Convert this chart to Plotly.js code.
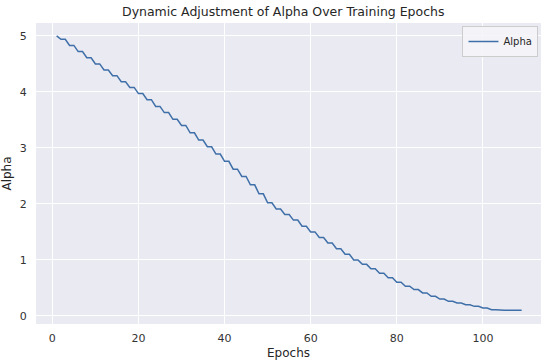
<!DOCTYPE html>
<html>
<head>
<meta charset="utf-8">
<script src="https://cdn.plot.ly/plotly-3.0.1.min.js"></script>
<style>html,body{margin:0;padding:0;background:#fff;}#chart{width:550px;height:362px;}</style>
</head>
<body>
<div id="chart"></div>
<script>
const epochs = [1,2,3,4,5,6,7,8,9,10,11,12,13,14,15,16,17,18,19,20,
21,22,23,24,25,26,27,28,29,30,31,32,33,34,35,36,37,38,39,40,
41,42,43,44,45,46,47,48,49,50,51,52,53,54,55,56,57,58,59,60,
61,62,63,64,65,66,67,68,69,70,71,72,73,74,75,76,77,78,79,80,
81,82,83,84,85,86,87,88,89,90,91,92,93,94,95,96,97,98,99,100,
101,102,103,104,105,106,107,108,109];
const alpha = [5.00,
4.94,4.94,4.83,4.83,4.72,4.72,4.61,4.61,4.50,4.50,
4.39,4.39,4.29,4.29,4.18,4.18,4.08,4.08,3.97,3.97,
3.86,3.86,3.74,3.74,3.63,3.63,3.51,3.51,3.40,3.40,
3.27,3.27,3.14,3.14,3.02,3.02,2.89,2.89,2.76,2.76,
2.62,2.62,2.49,2.49,2.34,2.34,2.18,2.18,2.02,2.02,
1.91,1.91,1.81,1.81,1.71,1.71,1.60,1.60,1.50,1.50,
1.40,1.40,1.30,1.30,1.20,1.20,1.10,1.10,1.00,1.00,
0.92,0.92,0.84,0.84,0.76,0.76,0.68,0.68,0.60,0.60,
0.53,0.53,0.47,0.47,0.41,0.41,0.35,0.35,0.30,0.30,
0.26,0.26,0.23,0.23,0.20,0.20,0.17,0.17,0.14,0.14,
0.11,0.11,0.10,0.10,0.10,0.10,0.10,0.10];
const xTicks = [0,20,40,60,80,100];
const yTicks = [0,1,2,3,4,5];
const seriesName = 'Alpha';
const titleText = 'Dynamic Adjustment of Alpha Over Training Epochs';
const xLabel = 'Epochs';
const yLabel = 'Alpha';

const font = 'DejaVu Sans, sans-serif';
Plotly.newPlot('chart', [{
  x: epochs, y: alpha, type: 'scatter', mode: 'lines', name: seriesName,
  line: {color: '#3f6fa8', width: 1.5}
}], {
  width: 550, height: 362,
  margin: {l: 36, r: 9, t: 23, b: 38},
  paper_bgcolor: '#ffffff', plot_bgcolor: '#eaeaf2',
  font: {family: font, size: 11, color: '#262626'},
  title: {text: titleText, font: {family: font, size: 12.5, color: '#262626'}, x: 0.515, xanchor: 'center', y: 0.967, yanchor: 'middle'},
  showlegend: true,
  legend: {x: 0.995, xanchor: 'right', y: 0.99, yanchor: 'top', bgcolor: 'rgba(245,245,248,0.9)', bordercolor: '#cccccc', borderwidth: 1,
    itemwidth: 30, tracegroupgap: 0, font: {family: font, size: 10, color: '#262626'}},
  xaxis: {range: [-3.8, 113.5], tickvals: xTicks, showgrid: true, gridcolor: '#ffffff', gridwidth: 1, zeroline: false, showline: false,
    ticks: 'outside', ticklen: 4, tickcolor: 'rgba(0,0,0,0)', tickfont: {family: font, size: 11, color: '#333333'},
    title: {text: xLabel, font: {family: font, size: 12, color: '#262626'}, standoff: 4}},
  yaxis: {range: [-0.145, 5.23], tickvals: yTicks, showgrid: true, gridcolor: '#ffffff', gridwidth: 1, zeroline: false, showline: false,
    ticks: 'outside', ticklen: 6, tickcolor: 'rgba(0,0,0,0)', tickfont: {family: font, size: 11, color: '#333333'},
    title: {text: yLabel, font: {family: font, size: 12, color: '#262626'}, standoff: 6}}
}, {displayModeBar: false, staticPlot: true});
</script>
</body>
</html>
